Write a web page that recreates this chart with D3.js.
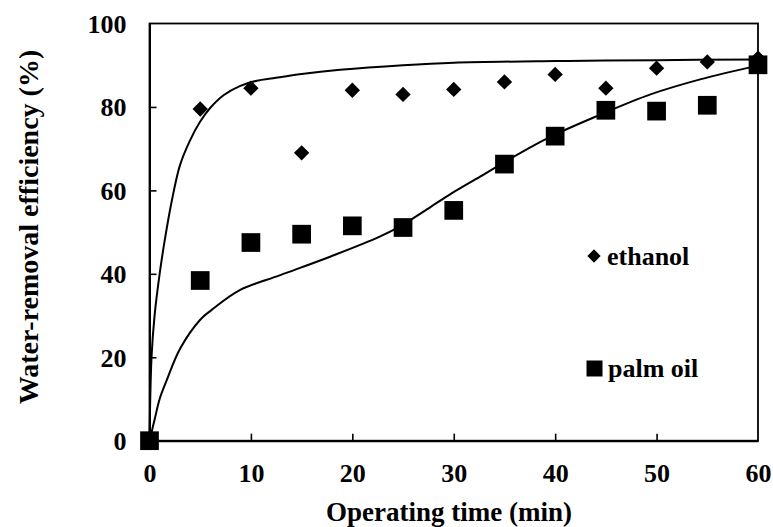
<!DOCTYPE html>
<html>
<head>
<meta charset="utf-8">
<style>
body { margin: 0; background: #fff; }
text { font-family: "Liberation Serif", "Times New Roman", serif; font-weight: bold; fill: #000; }
</style>
</head>
<body>
<div id="ch1"></div>
<script src="https://d3js.org/d3.v7.min.js"></script>
<script>

// measured points
var times = [0, 5, 10, 15, 20, 25, 30, 35, 40, 45, 50, 55, 60];
var ethanol = [0, 79.5, 84.5, 69, 84, 83, 84.2, 86, 87.8, 84.5, 89.3, 90.8, 91.7];
var palmOil = [0, 38.4, 47.5, 49.5, 51.5, 51.1, 55.2, 66.3, 73, 79.2, 79, 80.4, 90.1];

// fitted curves
var ethanolFitT = [0, 0.2, 0.5, 1, 1.5, 2.2, 3, 4, 5, 6, 7.3, 8.9, 10.6, 12.2, 15, 18.8, 25, 30, 40, 50, 60];
var ethanolFitY = [0, 20, 30, 40, 48, 57.5, 66, 72, 76.5, 79.8, 82.8, 85, 86.3, 86.9, 87.9, 88.9, 90, 90.6, 91, 91.2, 91.4];
var palmFitT = [0, 0.5, 1, 1.7, 3, 5, 6.1, 8.9, 12.9, 17.8, 22.7, 25, 27.7, 29.6, 32.6, 34.6, 39.5, 44.4, 49.4, 54.3, 60];
var palmFitY = [0, 5, 10, 14.5, 22, 29, 31.3, 36.1, 39.7, 44.1, 48.9, 51.8, 56, 59, 63.3, 66.2, 72.8, 78.1, 83, 86.6, 89.9];

var xTicks = [0, 10, 20, 30, 40, 50, 60];
var yTicks = [0, 20, 40, 60, 80, 100];

var W = 773, H = 527;
var plotL = 149.5, plotR = 758, plotT = 23.5, plotB = 440.7;

var svg = d3.select("#ch1").append("svg")
    .attr("width", W)
    .attr("height", H);

var x = d3.scaleLinear().domain([0, 60]).range([plotL, plotR]);
var y = d3.scaleLinear().domain([0, 100]).range([plotB, plotT]);

// frame
svg.append("rect")
    .attr("x", plotL).attr("y", plotT)
    .attr("width", plotR - plotL).attr("height", plotB - plotT)
    .attr("fill", "none").attr("stroke", "#000").attr("stroke-width", 1.8);

// x axis, ticks inside
var xAxis = svg.append("g")
    .attr("transform", "translate(0," + plotB + ")")
    .call(d3.axisBottom(x).tickValues(xTicks).tickSizeInner(-7).tickSizeOuter(0).tickPadding(14));
xAxis.select(".domain").attr("stroke-width", 2);
xAxis.selectAll(".tick line").attr("stroke-width", 1.6)
    .attr("display", function(d) { return (d == 0 || d == 60) ? "none" : null; });
xAxis.selectAll(".tick text")
    .attr("font-size", 26).attr("font-family", null)
    .attr("y", 41).attr("dy", 0);

var yAxis = svg.append("g")
    .attr("transform", "translate(" + plotL + ",0)")
    .call(d3.axisLeft(y).tickValues(yTicks).tickSizeInner(-7).tickSizeOuter(0).tickPadding(23));
yAxis.select(".domain").attr("stroke-width", 2);
yAxis.selectAll(".tick line").attr("stroke-width", 1.6)
    .attr("display", function(d) { return (d == 0 || d == 100) ? "none" : null; });
yAxis.selectAll(".tick text")
    .attr("font-size", 26).attr("font-family", null)
    .attr("dy", "0.34em");

// fitted lines
var line = d3.line()
    .x(function(d) { return x(d[0]); })
    .y(function(d) { return y(d[1]); })
    .curve(d3.curveCatmullRom.alpha(0.5));

svg.append("path")
    .datum(d3.zip(ethanolFitT, ethanolFitY))
    .attr("d", line)
    .attr("fill", "none").attr("stroke", "#000").attr("stroke-width", 2);

svg.append("path")
    .datum(d3.zip(palmFitT, palmFitY))
    .attr("d", line)
    .attr("fill", "none").attr("stroke", "#000").attr("stroke-width", 2);

// markers
var diamond = d3.symbol().type(d3.symbolDiamond2).size(150);
var square = d3.symbol().type(d3.symbolSquare).size(350);

svg.selectAll(".eth")
    .data(d3.zip(times, ethanol))
    .enter().append("path")
    .attr("class", "eth")
    .attr("d", diamond)
    .attr("transform", function(d) { return "translate(" + x(d[0]) + "," + y(d[1]) + ")"; });

svg.selectAll(".palm")
    .data(d3.zip(times, palmOil))
    .enter().append("path")
    .attr("class", "palm")
    .attr("d", square)
    .attr("transform", function(d) { return "translate(" + x(d[0]) + "," + y(d[1]) + ")"; });

// legend
svg.append("path").attr("d", d3.symbol().type(d3.symbolDiamond2).size(112)())
    .attr("transform", "translate(594,256)");
svg.append("text").attr("x", 607).attr("y", 265).attr("font-size", 26).text("ethanol");

svg.append("path").attr("d", d3.symbol().type(d3.symbolSquare).size(256)())
    .attr("transform", "translate(594.5,368.5)");
svg.append("text").attr("x", 608).attr("y", 376.5).attr("font-size", 26).text("palm oil");

// axis titles
svg.append("text")
    .attr("x", 449).attr("y", 521)
    .attr("text-anchor", "middle")
    .attr("font-size", 27)
    .text("Operating time (min)");

svg.append("text")
    .attr("transform", "translate(38,227) rotate(-90)")
    .attr("text-anchor", "middle")
    .attr("font-size", 28)
    .text("Water-removal efficiency (%)");

</script>
</body>
</html>
